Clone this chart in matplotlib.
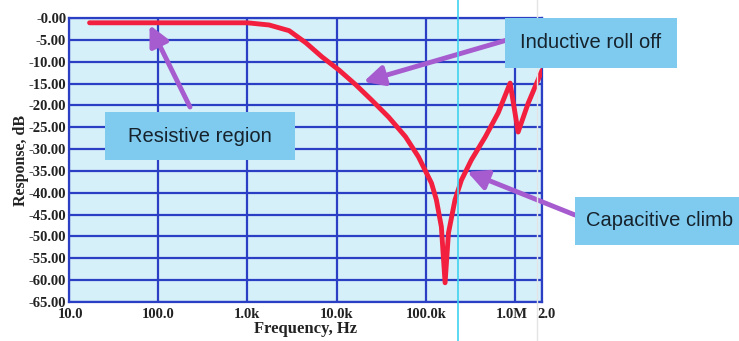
import matplotlib
matplotlib.use('Agg')
import matplotlib.pyplot as plt
import matplotlib.patches as patches
import matplotlib.transforms as mtrans
import numpy as np

# response curve
freq_hz = [17, 100, 1000, 1750, 2930, 4530, 6840, 10600, 16400, 24700,
           38300, 59200, 82600, 115500, 131000, 149000, 164000, 179000,
           212000, 250000, 323000, 463000, 646000, 879000, 1080000,
           1400000, 2000000]
resp_db = [-1.1, -1.1, -1.1, -1.6, -2.9, -5.7, -8.9, -11.9, -15.3, -18.8,
           -22.7, -27.2, -31.8, -37.8, -41.6, -47.8, -60.6, -49.2,
           -41.6, -37.1, -32.5, -27.2, -21.7, -14.9, -26.1,
           -19.5, -12.0]

x_ticks = [10, 100, 1000, 10000, 100000, 1000000, 2000000]
x_labels = ['10.0', '100.0', '1.0k', '10.0k', '100.0k', '1.0M', '2.0']
y_ticks = list(range(0, -70, -5))
y_labels = ['-%.2f' % abs(v) for v in y_ticks]

W, H = 739, 341
fig = plt.figure(figsize=(W / 100, H / 100), dpi=100)
ax = fig.add_axes([69 / W, 1 - 302 / H, (542 - 69) / W, (302 - 18) / H])

grid_c = '#2a3fc4'
ax.set_facecolor('#d6f0fa')
ax.set_xscale('log')
ax.set_xlim(10, 2000000)
ax.set_ylim(-65, 0)
ax.set_xticks(x_ticks)
ax.set_xticklabels(x_labels)
ax.xaxis.set_minor_locator(matplotlib.ticker.NullLocator())
ax.set_yticks(y_ticks)
ax.set_yticklabels(y_labels)
ax.grid(True, color=grid_c, lw=1.6)
for s in ax.spines.values():
    s.set_color(grid_c)
    s.set_linewidth(1.6)
ax.tick_params(axis='y', length=0, pad=2)
ax.tick_params(axis='x', length=0, pad=4)
for lab in ax.get_xticklabels() + ax.get_yticklabels():
    lab.set_fontfamily('Liberation Serif')
    lab.set_fontweight('bold')
    lab.set_fontsize(10.5)
    lab.set_color('#222222')
# nudge the two crowded labels at the right end apart
xl = ax.get_xticklabels()
xl[5].set_transform(xl[5].get_transform() + mtrans.ScaledTranslation(-3 / 100, 0, fig.dpi_scale_trans))
xl[6].set_transform(xl[6].get_transform() + mtrans.ScaledTranslation(5 / 100, 0, fig.dpi_scale_trans))
xl[0].set_transform(xl[0].get_transform() + mtrans.ScaledTranslation(2 / 100, 0, fig.dpi_scale_trans))

ax.set_xlabel('Frequency, Hz', family='Liberation Serif', weight='bold',
              fontsize=12, color='#222222', labelpad=0)
ax.set_ylabel('Response, dB', family='Liberation Serif', weight='bold',
              fontsize=11.5, color='#222222', labelpad=0)

ax.plot(freq_hz, resp_db, color='#f2203e', lw=3.5, solid_joinstyle='round',
        solid_capstyle='round', zorder=5)

# screenshot artefact lines
fig.add_artist(plt.Line2D([458 / W, 458 / W], [0, 1], color='#3fd3f0', lw=1.2))
fig.add_artist(plt.Line2D([537 / W, 537 / W], [0, 1], color='#e4e4e4', lw=1))


def px(x, y):
    return (x / W, 1 - y / H)


box_c = '#7fcbef'
boxes = [
    ('Resistive region', 105, 112, 295, 160, 200),
    ('Inductive roll off', 505, 18, 677, 68, 591),
    ('Capacitive climb', 575, 197, 760, 245, 660),
]
arrow_c = '#a65bcf'
arrows = [
    ((80, -1.6), (190, 107)),
    ((20000, -14.6), (507, 40)),
    ((290000, -35.2), (575, 215)),
]
for tip, tail in arrows:
    ax.annotate('', xy=tip, xytext=px(*tail), textcoords='figure fraction',
                arrowprops=dict(arrowstyle='-|>', color=arrow_c, lw=3.5,
                                mutation_scale=30, shrinkA=0, shrinkB=0),
                zorder=6, annotation_clip=False)
for text, x0, y0, x1, y1, xc in boxes:
    fx0, fy1 = px(x0, y0)
    fx1, fy0 = px(x1, y1)
    fig.add_artist(patches.Rectangle((fx0, fy0), fx1 - fx0, fy1 - fy0,
                                     transform=fig.transFigure,
                                     facecolor=box_c, edgecolor='none', zorder=7))
    fig.text(xc / W, (fy0 + fy1) / 2, text, ha='center', va='center',
             family='Liberation Sans', fontsize=14.5, color='#16222c', zorder=8)

fig.savefig('out.png', dpi=100)
